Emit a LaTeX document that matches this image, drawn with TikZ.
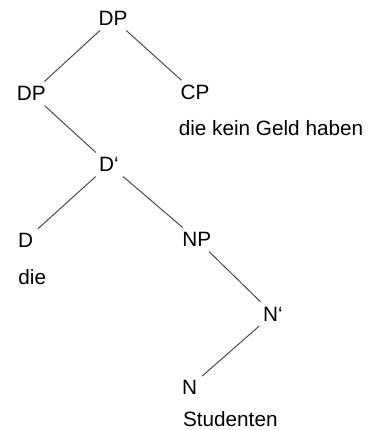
\documentclass[tikz,border=0pt]{standalone}
\usepackage{fontspec}
\setmainfont{Liberation Sans}

\begin{document}
\begin{tikzpicture}[scale=0.2,
            font=\fontsize{11.8}{14}\selectfont,
            cat/.style={inner sep=2.6pt},
            word/.style={inner sep=0pt},
            branch/.style={draw=black!72,line width=0.55pt}
            ]
            \useasboundingbox (0,0) rectangle (37.4,-43);

            % categories
            \node[cat] (DP) at (11.3,-1.85) {DP};
            \node[cat] (DPl) at (3.13,-9.35) {DP};
            \node[cat] (CP) at (19.5,-9.25) {CP};
            \node[cat] (Dbar) at (10.9,-16.45) {D‘};
            \node[cat] (D) at (2.55,-24.0) {D};
            \node[cat] (NP) at (19.67,-23.95) {NP};
            \node[cat] (Nbar) at (27.3,-31.4) {N‘};
            \node[cat] (N) at (18.97,-38.7) {N};

            % words under the heads
            \node[word] (CPw) at (27.1,-12.85) {die kein Geld haben};
            \node[word] (Dw) at (3.23,-27.7) {die};
            \node[word] (Nw) at (23.03,-41.9) {Studenten};

            \draw[branch] (DP) to (DPl);
            \draw[branch] (DP) to (CP);
            \draw[branch] (DPl) to (Dbar);
            \draw[branch] (Dbar) to (D);
            \draw[branch] (Dbar) to (NP);
            \draw[branch] (NP) to (Nbar);
            \draw[branch] (Nbar) to (N);

        \end{tikzpicture}
\end{document}
